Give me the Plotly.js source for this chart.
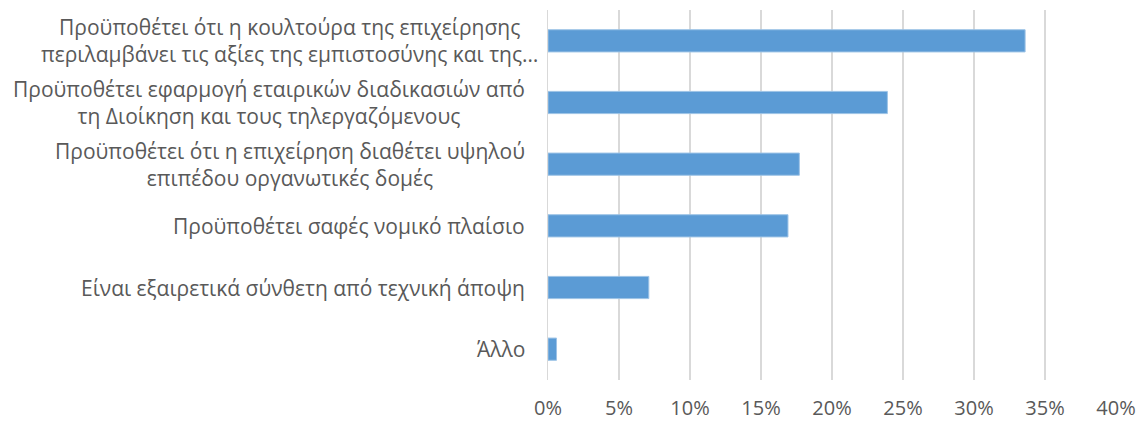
<!DOCTYPE html>
<html>
<head>
<meta charset="utf-8">
<script src="https://cdn.plot.ly/plotly-3.0.1.min.js"></script>
<style>html,body{margin:0;padding:0;background:#fff;}#chart{width:1140px;height:421px;}</style>
</head>
<body>
<div id="chart"></div>
<script>
const categories = [
  "Προϋποθέτει ότι η κουλτούρα της επιχείρησης<br>περιλαμβάνει τις αξίες της εμπιστοσύνης και της…",
  "Προϋποθέτει εφαρμογή εταιρικών διαδικασιών από<br>τη Διοίκηση και τους τηλεργαζόμενους",
  "Προϋποθέτει ότι η επιχείρηση διαθέτει υψηλού<br>επιπέδου οργανωτικές δομές",
  "Προϋποθέτει σαφές νομικό πλαίσιο",
  "Είναι εξαιρετικά σύνθετη από τεχνική άποψη",
  "Άλλο"
];
const values = [0.336, 0.239, 0.177, 0.169, 0.071, 0.006];
const xTickVals = [0, 0.05, 0.10, 0.15, 0.20, 0.25, 0.30, 0.35, 0.40];
const xTickText = ["0%", "5%", "10%", "15%", "20%", "25%", "30%", "35%", "40%"];

const ids = categories.map((c, i) => "c" + i);
const fontFam = "Open Sans, Noto Sans, sans-serif";
const txtColor = "#595959";

const trace = {
  type: "bar",
  orientation: "h",
  y: ids,
  x: values,
  marker: {color: "#5B9BD5", line: {color: "#9DC3E6", width: 1}},
  width: 0.36,
  hoverinfo: "x"
};

const annotations = categories.map((c, i) => ({
  xref: "paper", yref: "y",
  x: 0, y: ids[i],
  xanchor: "right", yanchor: "middle",
  xshift: i === 0 ? -8 : -21,
  text: c, align: "center", showarrow: false,
  font: {family: fontFam, size: 21, color: txtColor}
}));

const layout = {
  width: 1140, height: 421,
  margin: {l: 548, r: 24, t: 10, b: 41},
  paper_bgcolor: "#fff", plot_bgcolor: "#fff",
  showlegend: false,
  bargap: 0.64,
  font: {family: fontFam, color: txtColor},
  xaxis: {
    range: [0, 0.40],
    tickvals: xTickVals, ticktext: xTickText,
    showgrid: true, gridcolor: "#D9D9D9", gridwidth: 1.5,
    zeroline: false, showline: false,
    ticks: "", ticklabelstandoff: 14,
    tickfont: {family: fontFam, size: 20, color: txtColor},
    fixedrange: true
  },
  yaxis: {
    categoryorder: "array", categoryarray: ids.slice().reverse(),
    showticklabels: false, showgrid: false, zeroline: false,
    showline: true, linecolor: "#D9D9D9", linewidth: 1.5,
    ticks: "", fixedrange: true
  },
  annotations: annotations
};

Plotly.newPlot("chart", [trace], layout, {displayModeBar: false, staticPlot: true});
</script>
</body>
</html>
